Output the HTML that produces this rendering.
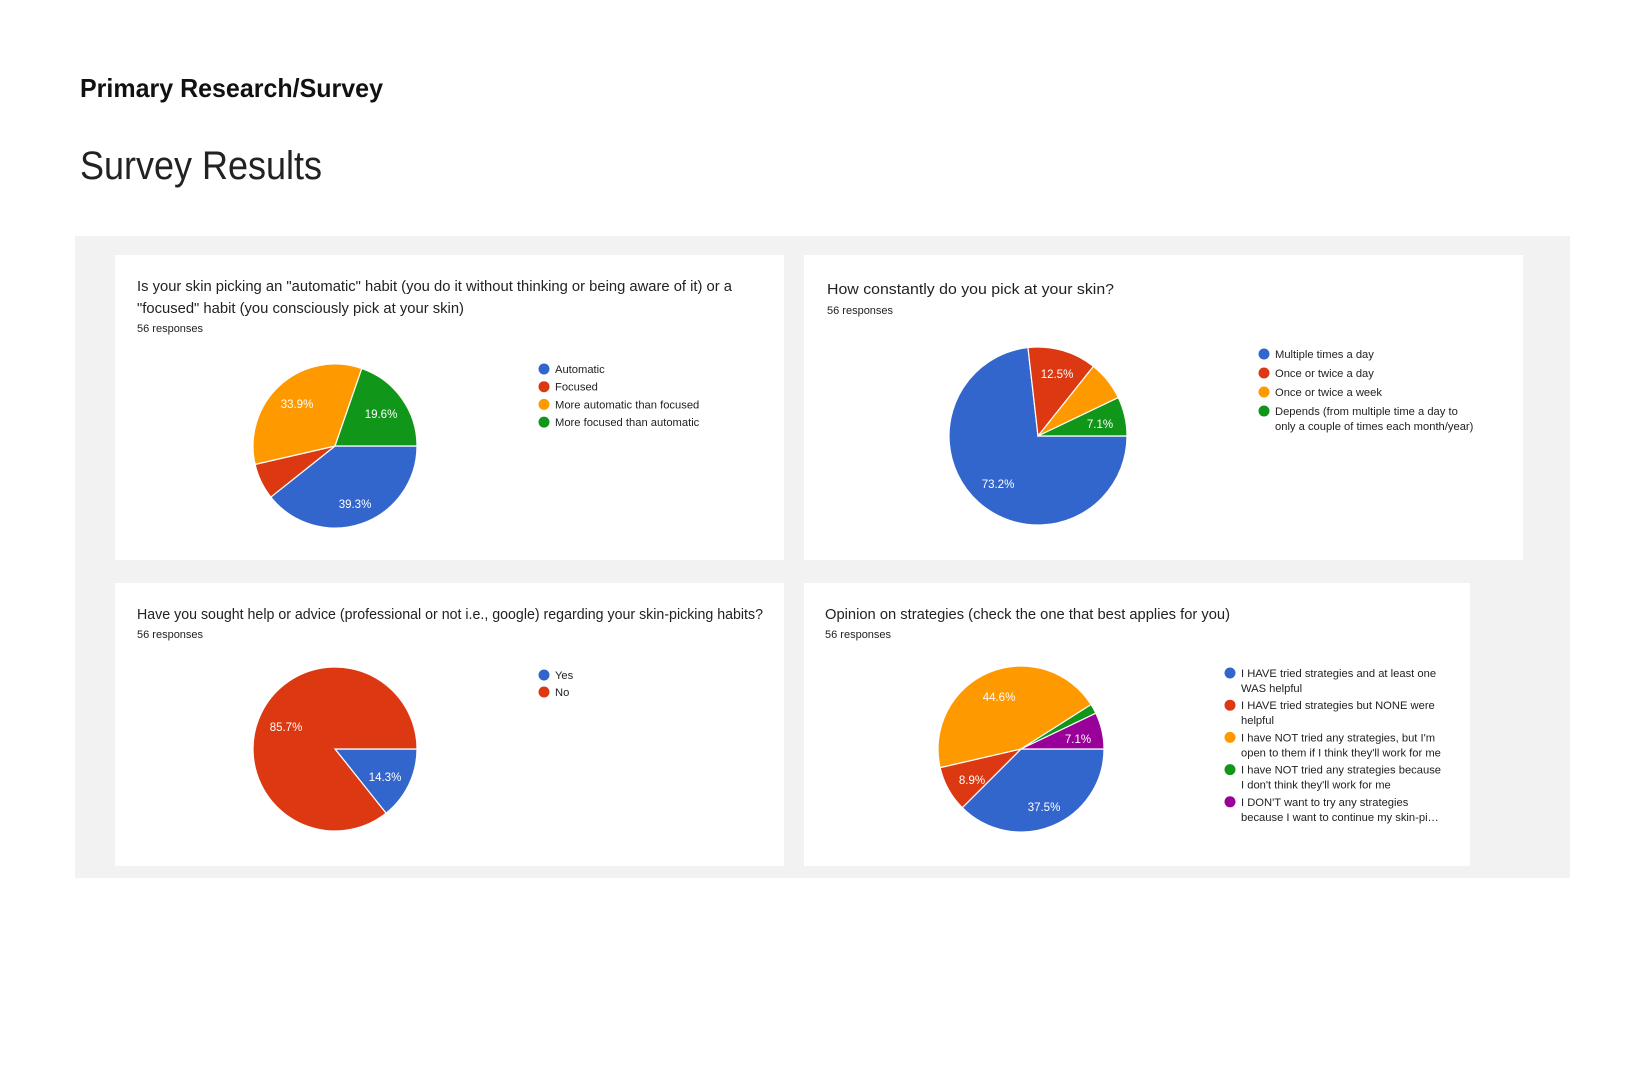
<!DOCTYPE html>
<html><head><meta charset="utf-8">
<style>
html,body{margin:0;padding:0;background:#fff;}
body{width:1644px;height:1063px;overflow:hidden;}
svg text{font-family:"Liberation Sans",Arial,sans-serif;}
</style></head>
<body>
<svg id="s" width="1644" height="1063" viewBox="0 0 1644 1063" xmlns="http://www.w3.org/2000/svg">
<text x="80" y="97" font-size="26" font-weight="bold" fill="#111" textLength="303" lengthAdjust="spacingAndGlyphs">Primary Research/Survey</text>
<text x="80" y="179" font-size="40" fill="#222" textLength="242" lengthAdjust="spacingAndGlyphs">Survey Results</text>
<rect x="75" y="236" width="1495" height="642" fill="#f2f2f2"/>
<rect x="115" y="255" width="669" height="305" fill="#fff"/>
<rect x="804" y="255" width="719" height="305" fill="#fff"/>
<rect x="115" y="583" width="669" height="283" fill="#fff"/>
<rect x="804" y="583" width="666" height="283" fill="#fff"/>
<g font-size="14.5" fill="#222">
<text x="137" y="291" textLength="595" lengthAdjust="spacingAndGlyphs">Is your skin picking an "automatic" habit (you do it without thinking or being aware of it) or a</text>
<text x="137" y="313" textLength="327" lengthAdjust="spacingAndGlyphs">"focused" habit (you consciously pick at your skin)</text>
<text x="827" y="294" textLength="287" lengthAdjust="spacingAndGlyphs">How constantly do you pick at your skin?</text>
<text x="137" y="619" textLength="626" lengthAdjust="spacingAndGlyphs">Have you sought help or advice (professional or not i.e., google) regarding your skin-picking habits?</text>
<text x="825" y="619" textLength="405" lengthAdjust="spacingAndGlyphs">Opinion on strategies (check the one that best applies for you)</text>
</g>
<g font-size="11" fill="#222">
<text x="137" y="332">56 responses</text>
<text x="827" y="314">56 responses</text>
<text x="137" y="638">56 responses</text>
<text x="825" y="638">56 responses</text>
</g>
<g id="pies"></g>
<g id="legs" font-size="11.2" fill="#222"></g>
</svg>
<script>
var C={b:"#3366cc",r:"#dc3912",o:"#ff9900",g:"#109618",p:"#990099"};
var pies=document.getElementById("pies"),legs=document.getElementById("legs");
var NS="http://www.w3.org/2000/svg";
function el(t,a,p){var e=document.createElementNS(NS,t);for(var k in a)e.setAttribute(k,a[k]);(p||pies).appendChild(e);return e;}
function pie(cx,cy,r,data,labels){
 var a=90;
 data.forEach(function(d){
  var a2=a+d[0]*3.6;
  var s=(a-90)*Math.PI/180,e=(a2-90)*Math.PI/180;
  var x1=cx+r*Math.cos(s),y1=cy+r*Math.sin(s),x2=cx+r*Math.cos(e),y2=cy+r*Math.sin(e);
  var large=(a2-a)>180?1:0;
  el("path",{d:"M"+cx+","+cy+"L"+x1+","+y1+"A"+r+","+r+" 0 "+large+" 1 "+x2+","+y2+"Z",fill:C[d[1]],stroke:"#fff","stroke-width":1.2});
  a=a2;
 });
 labels.forEach(function(l){var t=el("text",{x:l[1],y:l[2],"font-size":11.5,fill:"#fff","text-anchor":"middle"});t.textContent=l[0];});
}
pie(335,446,82,[[39.3,"b"],[7.1,"r"],[33.9,"o"],[19.7,"g"]],[["33.9%",297,408],["19.6%",381,418],["39.3%",355,508]]);
pie(1038,436,89,[[73.2,"b"],[12.5,"r"],[7.2,"o"],[7.1,"g"]],[["12.5%",1057,378],["7.1%",1100,428],["73.2%",998,488]]);
pie(335,749,82,[[14.3,"b"],[85.7,"r"]],[["85.7%",286,731],["14.3%",385,781]]);
pie(1021,749,83,[[37.5,"b"],[8.9,"r"],[44.6,"o"],[1.9,"g"],[7.1,"p"]],[["44.6%",999,701],["7.1%",1078,743],["8.9%",972,784],["37.5%",1044,811]]);
function leg(x,y,c,lines){el("circle",{cx:x,cy:y,r:5.5,fill:C[c]},legs);lines.forEach(function(s,i){var t=el("text",{x:x+11,y:y+4+i*15},legs);t.textContent=s;});}
[["Automatic","b"],["Focused","r"],["More automatic than focused","o"],["More focused than automatic","g"]].forEach(function(d,i){leg(544,369+i*17.7,d[1],[d[0]]);});
leg(1264,354,"b",["Multiple times a day"]);leg(1264,373,"r",["Once or twice a day"]);leg(1264,392,"o",["Once or twice a week"]);
leg(1264,411,"g",["Depends (from multiple time a day to","only a couple of times each month/year)"]);
leg(544,675,"b",["Yes"]);leg(544,692,"r",["No"]);
var L4=[["b",["I HAVE tried strategies and at least one","WAS helpful"]],["r",["I HAVE tried strategies but NONE were","helpful"]],["o",["I have NOT tried any strategies, but I'm","open to them if I think they'll work for me"]],["g",["I have NOT tried any strategies because","I don't think they'll work for me"]],["p",["I DON'T want to try any strategies","because I want to continue my skin-pi\u2026"]]];
L4.forEach(function(d,i){leg(1230,673+i*32.2,d[0],d[1]);});
</script>
</body></html>
